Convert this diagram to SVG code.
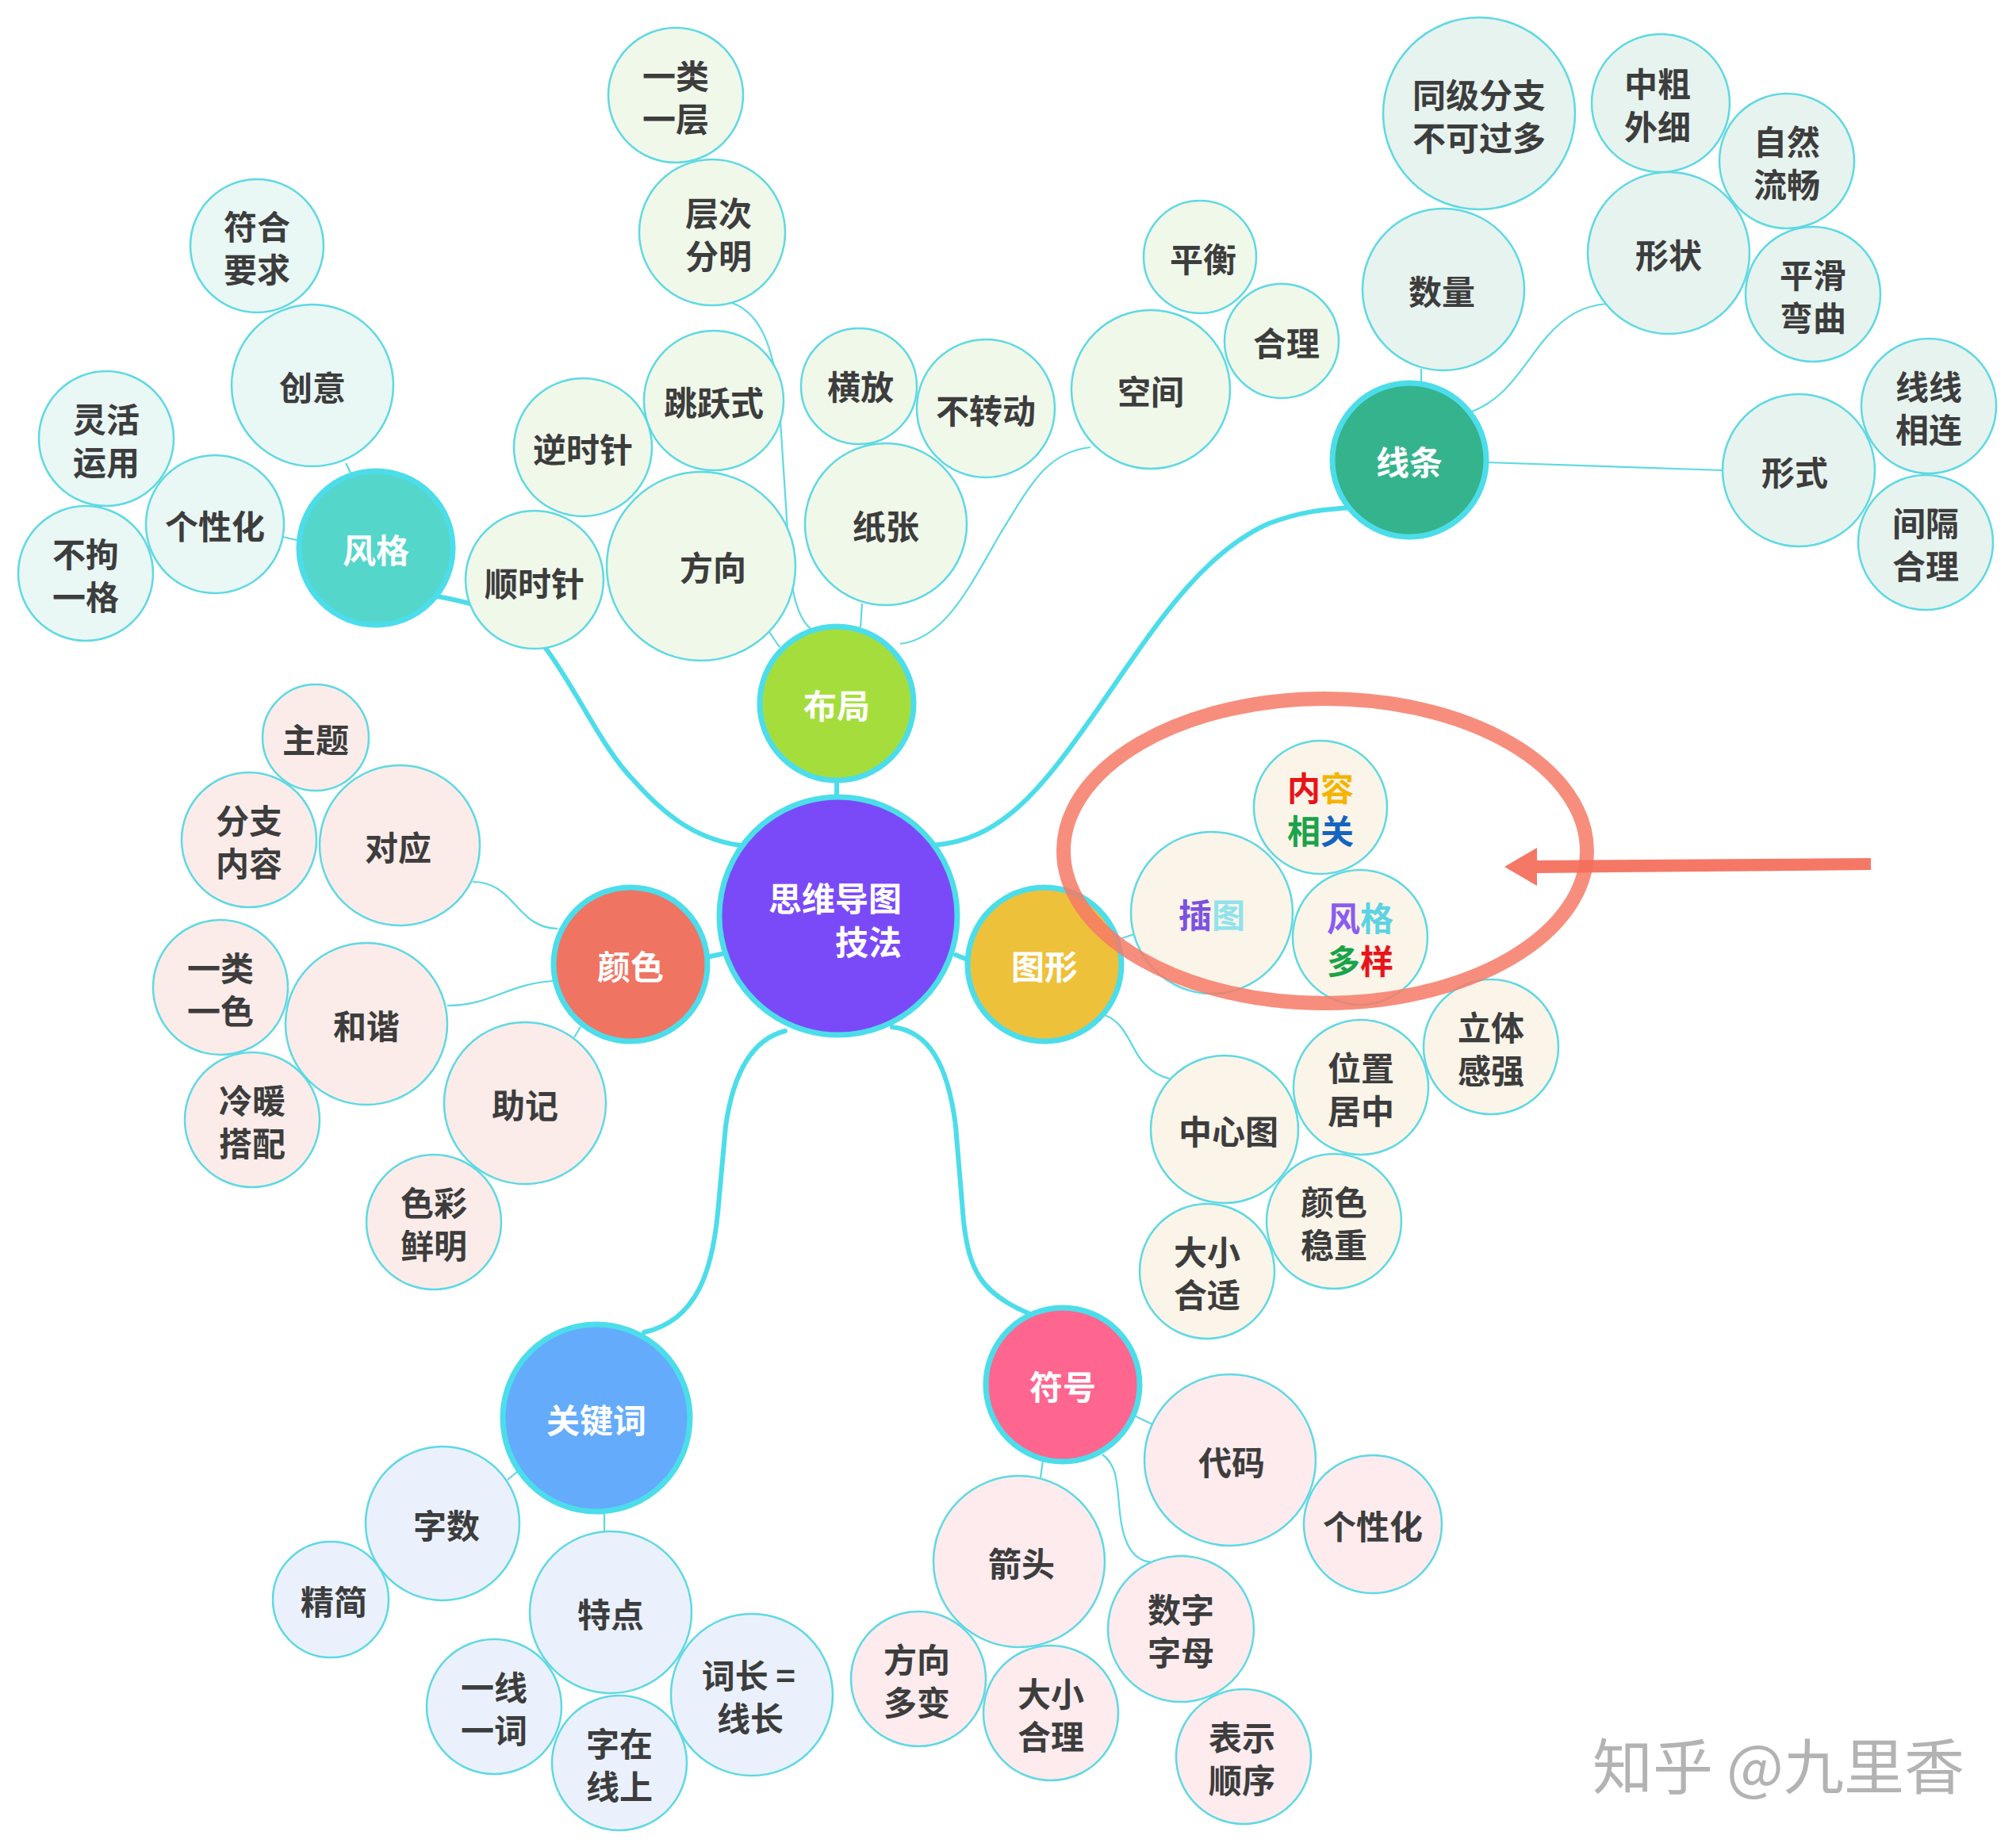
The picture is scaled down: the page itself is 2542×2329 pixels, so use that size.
<svg xmlns="http://www.w3.org/2000/svg" width="2542" height="2329" viewBox="0 0 2542 2329">
<style>
.bg{fill:#ffffff}
.main{stroke:#4CDDEA;stroke-width:7}
.sub{stroke:#5ED9E3;stroke-width:2.5}
.f1{fill:#E9F7F5}.f2{fill:#F0F8EA}.f3{fill:#E7F3EE}.f4{fill:#FBECE9}.f5{fill:#FBF4E8}.f6{fill:#EAF1FD}.f7{fill:#FDEBEE}
.t{font-family:"Noto Sans CJK SC","Noto Sans",sans-serif;font-weight:700;font-size:42px;fill:#3D3D3D;text-anchor:middle;dominant-baseline:central}
.w{fill:#FFFFFF}
.thick{fill:none;stroke:#4CDDEA;stroke-width:6;stroke-linecap:round}
.thin{fill:none;stroke:#5ED9E3;stroke-width:2.2}
.wm{font-family:"Noto Sans CJK SC","Noto Sans",sans-serif;font-size:76px;fill:#B3B3B3}
</style>
<rect class="bg" x="0" y="0" width="2542" height="2329"/>
<g id="connectors">
<path class="thick" d="M1055,985 L1055,1008"/>
<path class="thick" d="M552,752 C620,765 660,780 690,820 C730,875 760,945 800,985 C840,1030 880,1060 940,1067"/>
<path class="thick" d="M1176,1066 C1260,1060 1310,1000 1380,900 C1450,800 1510,700 1600,660 C1640,645 1670,642 1705,640"/>
<path class="thick" d="M890,1207 L910,1203"/>
<path class="thick" d="M1205,1204 L1222,1211"/>
<path class="thick" d="M990,1300 C950,1310 925,1350 915,1420 L905,1530 C898,1600 880,1665 812,1680"/>
<path class="thick" d="M1125,1295 C1170,1300 1195,1340 1205,1420 L1215,1540 C1222,1600 1235,1630 1297,1656"/>
<path class="thin" d="M436,584 L443,598"/>
<path class="thin" d="M357,677 L378,682"/>
<path class="thin" d="M923,382 C960,395 975,440 982,500 L995,700 C998,760 1010,785 1025,795"/>
<path class="thin" d="M970,797 L983,816"/>
<path class="thin" d="M1087,761 L1085,791"/>
<path class="thin" d="M1375,564 C1320,570 1300,610 1260,675 C1220,745 1190,805 1135,812"/>
<path class="thin" d="M1792,465 L1792,484"/>
<path class="thin" d="M1850,521 C1900,505 1920,460 1950,425 C1975,397 1995,386 2026,383"/>
<path class="thin" d="M1874,583 L2172,593"/>
<path class="thin" d="M596,1112 C650,1112 650,1170 703,1171"/>
<path class="thin" d="M564,1268 C620,1268 640,1240 698,1237"/>
<path class="thin" d="M724,1308 L732,1295"/>
<path class="thin" d="M1415,1183 L1430,1178"/>
<path class="thin" d="M1393,1280 C1420,1290 1425,1320 1440,1338 C1452,1352 1465,1358 1475,1360"/>
<path class="thin" d="M640,1866 L652,1856"/>
<path class="thin" d="M762,1908 L762,1932"/>
<path class="thin" d="M1430,1785 L1453,1796"/>
<path class="thin" d="M1315,1842 L1312,1863"/>
<path class="thin" d="M1390,1834 C1412,1850 1408,1880 1413,1915 C1418,1950 1430,1968 1452,1970"/>
</g>
<g id="n-center"><circle class="main" cx="1057" cy="1155" r="150" fill="#7A4AF8"/><text class="t w" style="text-anchor:end"><tspan x="1137" y="1130">思维导图</tspan><tspan x="1137" y="1185">技法</tspan></text></g>
<g id="n-buju"><circle class="main" cx="1055" cy="887" r="97" fill="#A5DE3C"/><text class="t w" x="1055" y="887">布局</text></g>
<g id="n-fengge"><circle class="main" cx="474" cy="691" r="97" fill="#55D6CB"/><text class="t w" x="474" y="691">风格</text></g>
<g id="n-xiantiao"><circle class="main" cx="1777" cy="580" r="97" fill="#35B38D"/><text class="t w" x="1777" y="580">线条</text></g>
<g id="n-yanse"><circle class="main" cx="795" cy="1216" r="97" fill="#EF7462"/><text class="t w" x="795" y="1216">颜色</text></g>
<g id="n-tuxing"><circle class="main" cx="1317" cy="1216" r="97" fill="#EEC13B"/><text class="t w" x="1317" y="1216">图形</text></g>
<g id="n-guanjianci"><circle class="main" cx="752" cy="1788" r="118" fill="#64ABFC"/><text class="t w" x="752" y="1788">关键词</text></g>
<g id="n-fuhao"><circle class="main" cx="1340" cy="1746" r="97" fill="#FE6690"/><text class="t w" x="1340" y="1746">符号</text></g>

<g id="n-fuheyaoqiu"><circle class="sub f1" cx="324" cy="310" r="84"/><text class="t"><tspan x="324" y="283">符合</tspan><tspan x="324" y="337">要求</tspan></text></g>
<g id="n-chuangyi"><circle class="sub f1" cx="394" cy="486" r="102"/><text class="t" x="394" y="486">创意</text></g>
<g id="n-linghuo"><circle class="sub f1" cx="134" cy="553" r="85"/><text class="t"><tspan x="134" y="526">灵活</tspan><tspan x="134" y="580">运用</tspan></text></g>
<g id="n-gexinghua1"><circle class="sub f1" cx="271" cy="661" r="87"/><text class="t" x="271" y="661">个性化</text></g>
<g id="n-bujuyige"><circle class="sub f1" cx="108" cy="723" r="85"/><text class="t"><tspan x="108" y="696">不拘</tspan><tspan x="108" y="750">一格</tspan></text></g>

<g id="n-yileiyiceng"><circle class="sub f2" cx="852" cy="120" r="85"/><text class="t"><tspan x="852" y="93">一类</tspan><tspan x="852" y="147">一层</tspan></text></g>
<g id="n-cengci"><circle class="sub f2" cx="898" cy="293" r="92"/><text class="t"><tspan x="906" y="266">层次</tspan><tspan x="906" y="320">分明</tspan></text></g>
<g id="n-tiaoyue"><circle class="sub f2" cx="900" cy="505" r="88"/><text class="t" x="900" y="505">跳跃式</text></g>
<g id="n-nishizhen"><circle class="sub f2" cx="735" cy="564" r="87"/><text class="t" x="735" y="564">逆时针</text></g>
<g id="n-shunshizhen"><circle class="sub f2" cx="674" cy="731" r="87"/><text class="t" x="674" y="733">顺时针</text></g>
<g id="n-fangxiang"><circle class="sub f2" cx="884" cy="714" r="119"/><text class="t" x="899" y="713">方向</text></g>
<g id="n-hengfang"><circle class="sub f2" cx="1083" cy="487" r="73"/><text class="t" x="1085" y="485">横放</text></g>
<g id="n-buzhuandong"><circle class="sub f2" cx="1243" cy="515" r="87"/><text class="t" x="1243" y="515">不转动</text></g>
<g id="n-zhizhang"><circle class="sub f2" cx="1117" cy="661" r="102"/><text class="t" x="1117" y="661">纸张</text></g>
<g id="n-kongjian"><circle class="sub f2" cx="1451" cy="491" r="100"/><text class="t" x="1451" y="491">空间</text></g>
<g id="n-pingheng"><circle class="sub f2" cx="1513" cy="324" r="71"/><text class="t" x="1517" y="324">平衡</text></g>
<g id="n-heli1"><circle class="sub f2" cx="1616" cy="430" r="72"/><text class="t" x="1622" y="430">合理</text></g>

<g id="n-tongji"><circle class="sub f3" cx="1865" cy="143" r="121"/><text class="t"><tspan x="1865" y="117">同级分支</tspan><tspan x="1865" y="171">不可过多</tspan></text></g>
<g id="n-zhongcu"><circle class="sub f3" cx="2094" cy="130" r="87"/><text class="t"><tspan x="2090" y="103">中粗</tspan><tspan x="2090" y="157">外细</tspan></text></g>
<g id="n-ziran"><circle class="sub f3" cx="2253" cy="203" r="85"/><text class="t"><tspan x="2253" y="176">自然</tspan><tspan x="2253" y="230">流畅</tspan></text></g>
<g id="n-shuliang"><circle class="sub f3" cx="1820" cy="365" r="102"/><text class="t" x="1818" y="365">数量</text></g>
<g id="n-xingzhuang"><circle class="sub f3" cx="2104" cy="319" r="102"/><text class="t" x="2104" y="319">形状</text></g>
<g id="n-pinghua"><circle class="sub f3" cx="2286" cy="371" r="85"/><text class="t"><tspan x="2286" y="344">平滑</tspan><tspan x="2286" y="398">弯曲</tspan></text></g>
<g id="n-xingshi"><circle class="sub f3" cx="2268" cy="593" r="96"/><text class="t" x="2263" y="593">形式</text></g>
<g id="n-xianxian"><circle class="sub f3" cx="2432" cy="512" r="85"/><text class="t"><tspan x="2432" y="485">线线</tspan><tspan x="2432" y="539">相连</tspan></text></g>
<g id="n-jiange"><circle class="sub f3" cx="2428" cy="684" r="85"/><text class="t"><tspan x="2428" y="657">间隔</tspan><tspan x="2428" y="711">合理</tspan></text></g>

<g id="n-zhuti"><circle class="sub f4" cx="398" cy="930" r="67"/><text class="t" x="398" y="930">主题</text></g>
<g id="n-fenzhi"><circle class="sub f4" cx="314" cy="1059" r="85"/><text class="t"><tspan x="314" y="1032">分支</tspan><tspan x="314" y="1086">内容</tspan></text></g>
<g id="n-duiying"><circle class="sub f4" cx="504" cy="1066" r="101"/><text class="t" x="502" y="1066">对应</text></g>
<g id="n-yileiyise"><circle class="sub f4" cx="278" cy="1245" r="85"/><text class="t"><tspan x="278" y="1218">一类</tspan><tspan x="278" y="1272">一色</tspan></text></g>
<g id="n-hexie"><circle class="sub f4" cx="462" cy="1291" r="102"/><text class="t" x="462" y="1291">和谐</text></g>
<g id="n-lengnuan"><circle class="sub f4" cx="318" cy="1412" r="85"/><text class="t"><tspan x="318" y="1385">冷暖</tspan><tspan x="318" y="1439">搭配</tspan></text></g>
<g id="n-zhuji"><circle class="sub f4" cx="662" cy="1391" r="102"/><text class="t" x="662" y="1391">助记</text></g>
<g id="n-secai"><circle class="sub f4" cx="547" cy="1541" r="85"/><text class="t"><tspan x="547" y="1514">色彩</tspan><tspan x="547" y="1568">鲜明</tspan></text></g>

<g id="n-neirong"><circle class="sub f5" cx="1665" cy="1018" r="84"/><text class="t"><tspan x="1665" y="991" style="fill:#E8141B">内</tspan><tspan style="fill:#F4B400">容</tspan><tspan x="1665" y="1045" style="fill:#1AA34A">相</tspan><tspan style="fill:#1565C0">关</tspan></text></g>
<g id="n-chatu"><circle class="sub f5" cx="1528" cy="1151" r="102"/><text class="t" x="1528" y="1151"><tspan style="fill:#7B52E0">插</tspan><tspan style="fill:#8FE3EC">图</tspan></text></g>
<g id="n-fenggeduoyang"><circle class="sub f5" cx="1715" cy="1182" r="85"/><text class="t"><tspan x="1715" y="1155" style="fill:#8A5CF0">风</tspan><tspan style="fill:#5BD3E3">格</tspan><tspan x="1715" y="1209" style="fill:#1AA34A">多</tspan><tspan style="fill:#E8141B">样</tspan></text></g>
<g id="n-zhongxintu"><circle class="sub f5" cx="1544" cy="1424" r="93"/><text class="t" x="1549" y="1424">中心图</text></g>
<g id="n-weizhi"><circle class="sub f5" cx="1716" cy="1371" r="85"/><text class="t"><tspan x="1716" y="1344">位置</tspan><tspan x="1716" y="1398">居中</tspan></text></g>
<g id="n-liti"><circle class="sub f5" cx="1880" cy="1320" r="85"/><text class="t"><tspan x="1880" y="1293">立体</tspan><tspan x="1880" y="1347">感强</tspan></text></g>
<g id="n-yansewenzhong"><circle class="sub f5" cx="1682" cy="1540" r="85"/><text class="t"><tspan x="1682" y="1513">颜色</tspan><tspan x="1682" y="1567">稳重</tspan></text></g>
<g id="n-daxiaoheshi"><circle class="sub f5" cx="1522" cy="1603" r="85"/><text class="t"><tspan x="1522" y="1576">大小</tspan><tspan x="1522" y="1630">合适</tspan></text></g>

<g id="n-zishu"><circle class="sub f6" cx="558" cy="1921" r="97"/><text class="t" x="563" y="1921">字数</text></g>
<g id="n-jingjian"><circle class="sub f6" cx="417" cy="2017" r="73"/><text class="t" x="421" y="2017">精简</text></g>
<g id="n-tedian"><circle class="sub f6" cx="770" cy="2033" r="102"/><text class="t" x="770" y="2033">特点</text></g>
<g id="n-yixian"><circle class="sub f6" cx="623" cy="2152" r="85"/><text class="t"><tspan x="623" y="2125">一线</tspan><tspan x="623" y="2179">一词</tspan></text></g>
<g id="n-zizai"><circle class="sub f6" cx="781" cy="2223" r="85"/><text class="t"><tspan x="781" y="2196">字在</tspan><tspan x="781" y="2250">线上</tspan></text></g>
<g id="n-cichang"><circle class="sub f6" cx="948" cy="2137" r="102"/><text class="t"><tspan x="944" y="2110">词长 =</tspan><tspan x="946" y="2164">线长</tspan></text></g>

<g id="n-daima"><circle class="sub f7" cx="1551" cy="1841" r="108"/><text class="t" x="1553" y="1841">代码</text></g>
<g id="n-gexinghua2"><circle class="sub f7" cx="1731" cy="1922" r="87"/><text class="t" x="1731" y="1922">个性化</text></g>
<g id="n-jiantou"><circle class="sub f7" cx="1285" cy="1969" r="108"/><text class="t" x="1288" y="1969">箭头</text></g>
<g id="n-fangxiangduobian"><circle class="sub f7" cx="1158" cy="2117" r="85"/><text class="t"><tspan x="1156" y="2090">方向</tspan><tspan x="1156" y="2144">多变</tspan></text></g>
<g id="n-daxiaoheli"><circle class="sub f7" cx="1325" cy="2160" r="85"/><text class="t"><tspan x="1325" y="2133">大小</tspan><tspan x="1325" y="2187">合理</tspan></text></g>
<g id="n-shuzi"><circle class="sub f7" cx="1489" cy="2054" r="92"/><text class="t"><tspan x="1489" y="2027">数字</tspan><tspan x="1489" y="2081">字母</tspan></text></g>
<g id="n-biaoshi"><circle class="sub f7" cx="1568" cy="2215" r="85"/><text class="t"><tspan x="1566" y="2188">表示</tspan><tspan x="1566" y="2242">顺序</tspan></text></g>

<g id="highlight">
<ellipse cx="1671" cy="1073" rx="330" ry="192" fill="none" stroke="#F67A66" stroke-opacity="0.85" stroke-width="18"/>
<path d="M1897,1093 L1938,1069 L1938,1085 L2359,1082 L2359,1097 L1938,1101 L1938,1117 Z" fill="#F46C5A" fill-opacity="0.92"/>
</g>
<text class="wm" x="2008" y="2256">知乎 @九里香</text>
</svg>
